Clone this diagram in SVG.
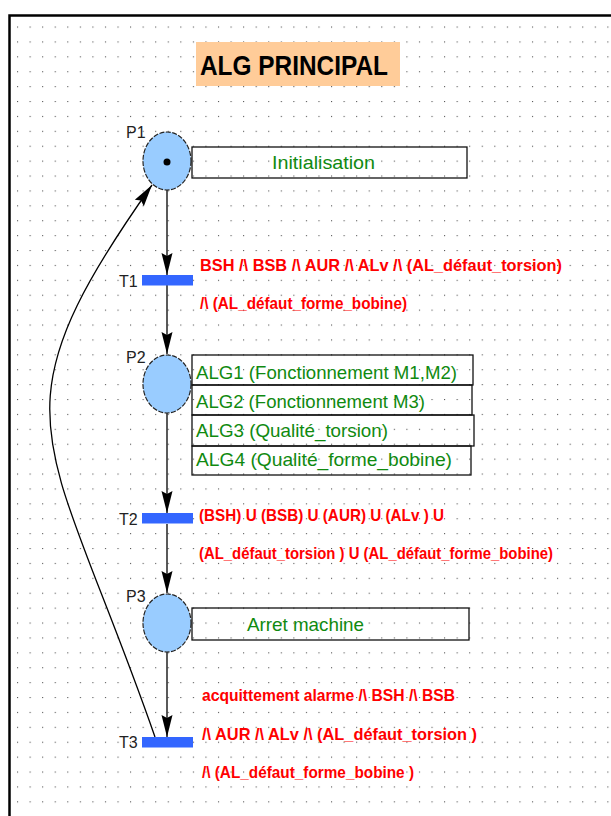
<svg xmlns="http://www.w3.org/2000/svg" width="611" height="816" viewBox="0 0 611 816">
<style>
.place{fill:#99ccff;stroke:#222;stroke-width:1.2;stroke-dasharray:5 1.5}
.bar{fill:#3366ff}
.lbl{font-family:"Liberation Sans",Arial,sans-serif;font-size:16px;fill:#222}
.act{fill:none;stroke:#111;stroke-width:1.3}
.gtxt{font-family:"Liberation Sans",Arial,sans-serif;font-size:18.5px;fill:#108a10}
.rtxt{font-family:"Liberation Sans",Arial,sans-serif;font-size:16.5px;font-weight:bold;fill:#ff0000}
.conn{stroke:#000;stroke-width:1.3;fill:none}
</style>
<defs>
<pattern id="grid" patternUnits="userSpaceOnUse" x="17" y="26.5" width="12.56" height="14.9">
<rect x="0" y="0" width="1.1" height="1.1" fill="#555"/>
</pattern>
<marker id="arr" markerUnits="userSpaceOnUse" markerWidth="24" markerHeight="14" refX="22" refY="6" orient="auto">
<path d="M0,0.5 L22,6 L0,11.5 L3,6 z" fill="#000"/>
</marker>
</defs>
<rect width="611" height="816" fill="#fff"/>
<rect x="11" y="17" width="600" height="799" fill="url(#grid)"/>
<rect x="9.5" y="15.5" width="700" height="900" fill="none" stroke="#000" stroke-width="2.5"/>

<g id="title">
<rect x="196" y="42" width="204" height="44" fill="#ffcc99"/>
<text x="200" y="74.5" font-family="'Liberation Sans',Arial,sans-serif" font-size="28" font-weight="bold" fill="#000" textLength="188" lengthAdjust="spacingAndGlyphs">ALG PRINCIPAL</text>
</g>

<g id="connectors">
<line class="conn" x1="167" y1="190" x2="167" y2="275" marker-end="url(#arr)"/>
<line class="conn" x1="167" y1="285" x2="167" y2="354" marker-end="url(#arr)"/>
<line class="conn" x1="167" y1="413" x2="167" y2="513" marker-end="url(#arr)"/>
<line class="conn" x1="167" y1="524" x2="167" y2="593" marker-end="url(#arr)"/>
<line class="conn" x1="167" y1="652" x2="167" y2="737" marker-end="url(#arr)"/>
<path class="conn" d="M155,737 C48,430 -14,420 152,185" marker-end="url(#arr)"/>
</g>

<g id="P1">
<ellipse class="place" cx="167" cy="161" rx="24" ry="29"/>
<circle cx="167" cy="162" r="3.5" fill="#000"/>
<text class="lbl" x="126" y="138">P1</text>
<rect class="act" x="192" y="147" width="275" height="31"/>
<text class="gtxt" x="272" y="169" textLength="103" lengthAdjust="spacingAndGlyphs">Initialisation</text>
</g>

<g id="T1">
<rect class="bar" x="142" y="275" width="51" height="10.5"/>
<text class="lbl" x="119" y="287">T1</text>
<text class="rtxt" x="200" y="271" textLength="362" lengthAdjust="spacingAndGlyphs">BSH /\ BSB /\ AUR /\ ALv /\ (AL_défaut_torsion)</text>
<text class="rtxt" x="200" y="309" textLength="207" lengthAdjust="spacingAndGlyphs">/\ (AL_défaut_forme_bobine)</text>
</g>

<g id="P2">
<ellipse class="place" cx="167" cy="384" rx="24" ry="29"/>
<text class="lbl" x="126" y="363">P2</text>
<rect class="act" x="192" y="355" width="281" height="30"/>
<rect class="act" x="192" y="385" width="280" height="30"/>
<rect class="act" x="192" y="415" width="282" height="31"/>
<rect class="act" x="192" y="446" width="279" height="29"/>
<text class="gtxt" x="196" y="379" textLength="261" lengthAdjust="spacingAndGlyphs">ALG1 (Fonctionnement M1,M2)</text>
<text class="gtxt" x="196" y="408" textLength="229" lengthAdjust="spacingAndGlyphs">ALG2 (Fonctionnement M3)</text>
<text class="gtxt" x="196" y="437" textLength="192" lengthAdjust="spacingAndGlyphs">ALG3 (Qualité_torsion)</text>
<text class="gtxt" x="196" y="466" textLength="256" lengthAdjust="spacingAndGlyphs">ALG4 (Qualité_forme_bobine)</text>
</g>

<g id="T2">
<rect class="bar" x="142" y="513" width="51" height="10.5"/>
<text class="lbl" x="119" y="525">T2</text>
<text class="rtxt" x="199" y="521" textLength="245" lengthAdjust="spacingAndGlyphs">(BSH) U (BSB) U (AUR) U (ALv ) U</text>
<text class="rtxt" x="199" y="559" textLength="354" lengthAdjust="spacingAndGlyphs">(AL_défaut_torsion ) U (AL_défaut_forme_bobine)</text>
</g>

<g id="P3">
<ellipse class="place" cx="167" cy="623" rx="24" ry="29"/>
<text class="lbl" x="126" y="602">P3</text>
<rect class="act" x="192" y="608" width="277" height="32"/>
<text class="gtxt" x="247" y="631" textLength="117" lengthAdjust="spacingAndGlyphs">Arret machine</text>
</g>

<g id="T3">
<rect class="bar" x="142" y="737" width="51" height="10.5"/>
<text class="lbl" x="119" y="748">T3</text>
<text class="rtxt" x="202" y="701" textLength="253" lengthAdjust="spacingAndGlyphs">acquittement alarme /\ BSH /\ BSB</text>
<text class="rtxt" x="202" y="740" textLength="275" lengthAdjust="spacingAndGlyphs">/\ AUR /\ ALv /\ (AL_défaut_torsion )</text>
<text class="rtxt" x="202" y="778" textLength="212" lengthAdjust="spacingAndGlyphs">/\ (AL_défaut_forme_bobine )</text>
</g>
</svg>
